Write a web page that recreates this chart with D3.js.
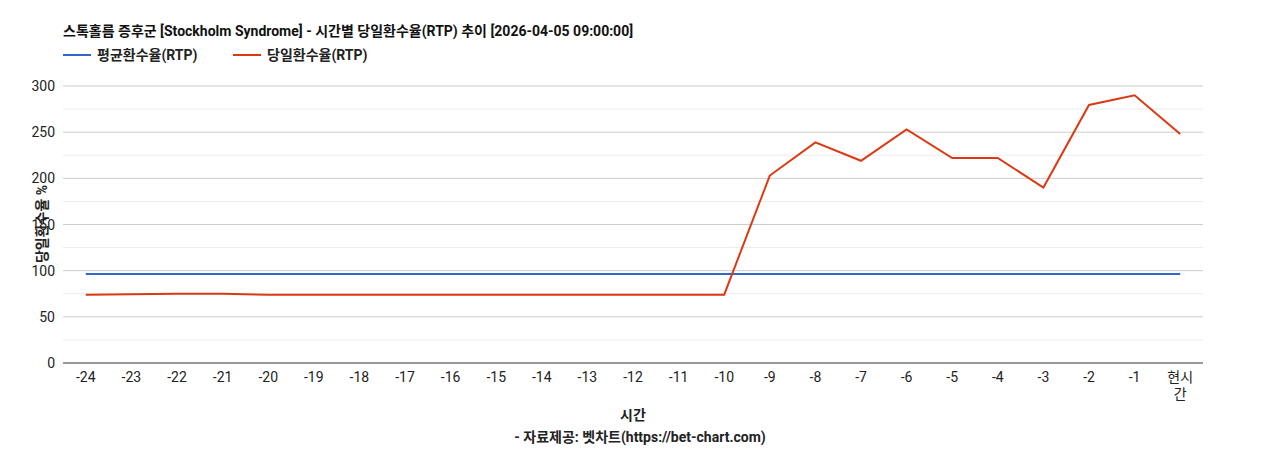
<!DOCTYPE html><html><head><meta charset="utf-8"><script src="https://d3js.org/d3.v7.min.js"></script>
<style>body{margin:0;background:#fff;font-family:Roboto,"Noto Sans CJK KR",sans-serif}</style></head><body><svg id="c" width="1268" height="450"></svg>
<script>
const categories=["-24","-23","-22","-21","-20","-19","-18","-17","-16","-15","-14","-13","-12","-11","-10","-9","-8","-7","-6","-5","-4","-3","-2","-1","현시간"];
const avgRTP=[96.4,96.4,96.4,96.4,96.4,96.4,96.4,96.4,96.4,96.4,96.4,96.4,96.4,96.4,96.4,96.4,96.4,96.4,96.4,96.4,96.4,96.4,96.4,96.4,96.4];
const dayRTP=[74,74.5,75,75,74,74,74,74,74,74,74,74,74,74,74,203,239,219,253,222,222,190,279.5,290,248];
const yTicks=[0,50,100,150,200,250,300];
const svg=d3.select("#c"),F='Roboto,"Noto Sans CJK KR",sans-serif';
const L=63,R=1203,T=86,B=363;
const x=d3.scaleBand().domain(categories).range([L,R]);
const y=d3.scaleLinear().domain([0,300]).range([B,T]);
const cx=d=>x(d)+x.bandwidth()/2;
svg.append("g").selectAll("line").data(d3.range(25,300,50)).join("line").attr("x1",L).attr("x2",R).attr("y1",d=>y(d)).attr("y2",d=>y(d)).attr("stroke","#ebebeb");
svg.append("g").selectAll("line").data(yTicks.slice(1)).join("line").attr("x1",L).attr("x2",R).attr("y1",d=>y(d)).attr("y2",d=>y(d)).attr("stroke","#cccccc");
svg.append("line").attr("x1",L).attr("x2",R).attr("y1",B).attr("y2",B).attr("stroke","#333");
svg.append("g").selectAll("text").data(yTicks).join("text").attr("x",L-8).attr("y",d=>y(d)+5).attr("text-anchor","end").attr("font-size",14).attr("font-family",F).attr("fill","#222").text(d=>d);
const xl=svg.append("g").selectAll("text").data(categories).join("text").attr("x",cx).attr("y",B+19).attr("text-anchor","middle").attr("font-size",14).attr("font-family",F).attr("fill","#222");
xl.each(function(d){const t=d3.select(this);if(d==="현시간"){t.append("tspan").attr("x",cx(d)).text("현시");t.append("tspan").attr("x",cx(d)).attr("dy",17).text("간");}else t.text(d);});
const line=d3.line().x((d,i)=>cx(categories[i])).y(d=>y(d));
svg.append("path").datum(avgRTP).attr("d",line).attr("fill","none").attr("stroke","#3366cc").attr("stroke-width",2);
svg.append("path").datum(dayRTP).attr("d",line).attr("fill","none").attr("stroke","#dc3912").attr("stroke-width",2);
svg.append("text").attr("x",63).attr("y",36).attr("font-size",14).attr("font-weight","bold").attr("font-family",F).attr("fill","#111").text("스톡홀름 증후군 [Stockholm Syndrome] - 시간별 당일환수율(RTP) 추이 [2026-04-05 09:00:00]");
const lg=[["평균환수율(RTP)","#3366cc",63],["당일환수율(RTP)","#dc3912",233]];
lg.forEach(([t,c,lx])=>{svg.append("line").attr("x1",lx).attr("x2",lx+28).attr("y1",55).attr("y2",55).attr("stroke",c).attr("stroke-width",2);
svg.append("text").attr("x",lx+34).attr("y",60).attr("font-size",14).attr("font-weight","bold").attr("font-family",F).attr("fill","#222").text(t);});
svg.append("text").attr("transform","translate(47,224) rotate(-90)").attr("text-anchor","middle").attr("font-size",14).attr("font-weight","bold").attr("font-family",F).attr("fill","#222").text("당일환수율 %");
svg.append("text").attr("x",633).attr("y",420).attr("text-anchor","middle").attr("font-size",14).attr("font-weight","bold").attr("font-family",F).attr("fill","#222").text("시간");
svg.append("text").attr("x",640).attr("y",442).attr("text-anchor","middle").attr("font-size",14).attr("font-weight","bold").attr("font-family",F).attr("fill","#222").text("- 자료제공: 벳차트(https://bet-chart.com)");
</script></body></html>
